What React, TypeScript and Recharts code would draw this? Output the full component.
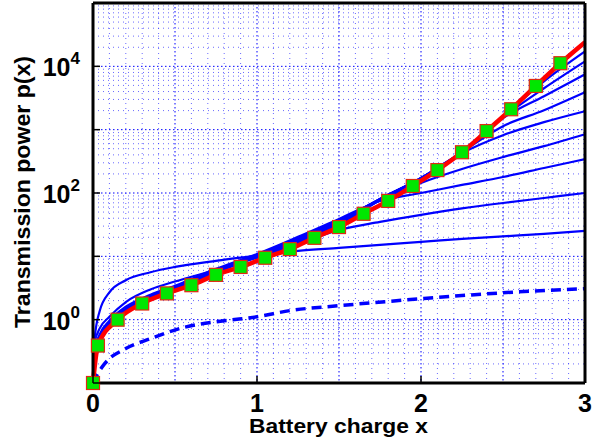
import { LineChart, Line, XAxis, YAxis, CartesianGrid } from 'recharts';

// optimal policy (red, with square markers)
const redX = [0, 0.03, 0.15, 0.3, 0.45, 0.6, 0.75, 0.9, 1.05, 1.2, 1.35, 1.5, 1.65, 1.8, 1.95, 2.1, 2.25, 2.4, 2.55, 2.7, 2.85, 3.0];
const redP = [0.1, 0.39, 1.0, 1.8, 2.6, 3.5, 5.1, 6.8, 9.5, 13, 19.6, 29, 47, 75, 129, 230, 440, 950, 2100, 4900, 11200, 24000];

// finite-horizon family (blue solid)
const blueX = [0, 0.01, 0.04, 0.1, 0.2, 0.35, 0.5, 0.75, 1.0, 1.25, 1.5, 1.75, 2.0, 2.25, 2.5, 2.75, 3.0];
const blueA = [0.1, 0.234, 0.434, 0.776, 1.29, 2.14, 2.97, 5.5, 9.82, 16.3, 31.3, 77.6, 172, 443, 1633, 5802, 17220];
const blueB = [0.1, 0.243, 0.451, 0.805, 1.34, 2.14, 2.97, 5.7, 9.82, 16.9, 32.5, 77.6, 172, 443, 1574, 4505, 11990];
const blueC = [0.1, 0.252, 0.467, 0.834, 1.34, 2.14, 3.08, 5.7, 10.2, 17.5, 33.7, 80.6, 172, 443, 1517, 3370, 7479];
const blueD = [0.1, 0.261, 0.484, 0.865, 1.39, 2.22, 3.08, 5.91, 10.2, 18.2, 34.9, 80.6, 172, 443, 1135, 2028, 3898];
const blueE = [0.1, 0.271, 0.502, 0.897, 1.44, 2.3, 3.19, 5.91, 10.6, 18.9, 36.3, 80.6, 172, 427, 819, 1313, 1955];
const blueF = [0.1, 0.291, 0.54, 0.93, 1.49, 2.39, 3.31, 6.13, 10.6, 19.6, 37.6, 77.6, 144, 239, 369, 550, 849];
const blueG = [0.1, 0.325, 0.581, 0.964, 1.6, 2.48, 3.43, 6.36, 10.9, 20.3, 39, 74.8, 100, 134, 179, 248, 343];
const blueH = [0.1, 0.434, 0.721, 1.11, 1.9, 3.0, 4.0, 6.1, 9.47, 15.7, 26.1, 34.9, 45.1, 57, 69.6, 83.4, 100];
const blueI = [0.1, 0.5, 1.35, 2.7, 4.2, 5.6, 6.8, 8.49, 10.2, 12.2, 13.6, 15.2, 16.9, 18.9, 20.7, 22.6, 25.2];

// lower bound (blue dashed)
const dashX = [0, 0.01, 0.07, 0.2, 0.35, 0.55, 0.8, 1.0, 1.2, 1.5, 2.0, 2.5, 3.0];
const dashP = [0.1, 0.114, 0.2, 0.35, 0.5, 0.75, 0.96, 1.11, 1.39, 1.66, 2.14, 2.66, 3.08];

const xTicks = [0, 1, 2, 3];
const yTicks = [0.1, 1, 10, 100, 1000, 10000, 100000];
const yLabelled = [1, 100, 10000];
const xGridMajor = [0.5, 1, 1.5, 2, 2.5];
const xGridMinor = [0.1, 0.2, 0.3, 0.4, 0.6, 0.7, 0.8, 0.9, 1.1, 1.2, 1.3, 1.4, 1.6, 1.7, 1.8, 1.9, 2.1, 2.2, 2.3, 2.4, 2.6, 2.7, 2.8, 2.9];
const yGridMajor = [1, 10, 100, 1000, 10000];
const decades = [0.1, 1, 10, 100, 1000, 10000];
const mantissas = [2, 3, 4, 5, 6, 7, 8, 9];
const yGridMinor = decades.flatMap((d) => mantissas.map((m) => m * d));

const FONT = '"Liberation Sans", Arial, sans-serif';

const toRows = (xs: number[], ys: number[]) => xs.map((x, i) => ({ x, p: ys[i] }));

const blueSeries = [blueA, blueB, blueC, blueD, blueE, blueF, blueG, blueH, blueI];
const redRows = toRows(redX, redP);
const markerRows = redRows.slice(0, redRows.length - 1);
const dashRows = toRows(dashX, dashP);

const XTickBottom = ({ x, y, payload }: any) => (
  <g>
    <line x1={x} y1={y} x2={x} y2={y - 7} stroke="#000" strokeWidth={1.5} />
    <text x={x} y={y + 29} textAnchor="middle" fontSize={25} fontWeight="bold" fontFamily={FONT} fill="#000">
      {payload.value}
    </text>
  </g>
);

const XTickTop = ({ x, y }: any) => (
  <line x1={x} y1={y} x2={x} y2={y + 7} stroke="#000" strokeWidth={1.5} />
);

const YTickLeft = ({ x, y, payload }: any) => {
  const v = payload.value;
  const exp = Math.round(Math.log10(v));
  return (
    <g>
      <line x1={x} y1={y} x2={x + 7} y2={y} stroke="#000" strokeWidth={1.5} />
      {yLabelled.includes(v) && (
        <text x={x - 13} y={y + 10} textAnchor="end" fontSize={25} fontWeight="bold" fontFamily={FONT} fill="#000">
          10
          <tspan dy={-12} fontSize={17}>{exp}</tspan>
        </text>
      )}
    </g>
  );
};

const YTickRight = ({ x, y }: any) => (
  <line x1={x} y1={y} x2={x - 7} y2={y} stroke="#000" strokeWidth={1.5} />
);

const SquareDot = (props: any) => (
  <rect
    key={props.index}
    x={props.cx - 6.5}
    y={props.cy - 6.5}
    width={13}
    height={13}
    fill="#00e600"
    stroke="#e02a10"
    strokeWidth={1.2}
  />
);

export default function App() {
  const axisLine = { stroke: '#000', strokeWidth: 3 };
  return (
    <div style={{ position: 'absolute', left: 0, top: 0, width: 594, height: 447, background: '#fff' }}>
      <LineChart width={594} height={447} margin={{ top: 0, right: 0, bottom: 0, left: 0 }}>
        <CartesianGrid
          horizontalValues={yGridMinor}
          verticalValues={xGridMinor}
          stroke="#2a2aff"
          strokeOpacity={0.7}
          strokeDasharray="1 4"
        />
        <CartesianGrid
          horizontalValues={yGridMajor}
          verticalValues={xGridMajor}
          stroke="#0000ff"
          strokeDasharray="1.5 2.5"
        />
        <XAxis
          dataKey="x"
          type="number"
          domain={[0, 3]}
          ticks={xTicks}
          height={64}
          tickSize={0}
          tickMargin={0}
          axisLine={axisLine}
          tick={<XTickBottom />}
          interval={0}
          allowDuplicatedCategory={false}
        />
        <XAxis
          xAxisId="top"
          orientation="top"
          dataKey="x"
          type="number"
          domain={[0, 3]}
          ticks={xTicks}
          height={3}
          tickSize={0}
          tickMargin={0}
          axisLine={axisLine}
          tick={<XTickTop />}
          interval={0}
        />
        <YAxis
          scale="log"
          type="number"
          domain={[0.1, 100000]}
          ticks={yTicks}
          width={93}
          tickSize={0}
          tickMargin={0}
          axisLine={axisLine}
          tick={<YTickLeft />}
          interval={0}
        />
        <YAxis
          yAxisId="right"
          orientation="right"
          scale="log"
          type="number"
          domain={[0.1, 100000]}
          ticks={yTicks}
          width={9}
          tickSize={0}
          tickMargin={0}
          axisLine={axisLine}
          tick={<YTickRight />}
          interval={0}
        />
        {blueSeries.map((ys, i) => (
          <Line
            key={`blue-${i}`}
            data={toRows(blueX, ys)}
            dataKey="p"
            type="monotone"
            stroke="#0000ff"
            strokeWidth={2.2}
            dot={false}
            activeDot={false}
            isAnimationActive={false}
          />
        ))}
        <Line
          data={dashRows}
          dataKey="p"
          type="monotone"
          stroke="#0000ff"
          strokeWidth={3.5}
          strokeDasharray="10 6"
          dot={false}
          activeDot={false}
          isAnimationActive={false}
        />
        <Line
          data={redRows}
          dataKey="p"
          type="monotone"
          stroke="#ff0000"
          strokeWidth={4.5}
          dot={false}
          activeDot={false}
          isAnimationActive={false}
        />
        <Line
          data={markerRows}
          dataKey="p"
          stroke="none"
          dot={SquareDot}
          activeDot={false}
          isAnimationActive={false}
        />
      </LineChart>
      <svg width={594} height={447} style={{ position: 'absolute', left: 0, top: 0, pointerEvents: 'none' }}>
        <text
          x={338.5}
          y={433}
          textAnchor="middle"
          fontSize={20}
          fontWeight="bold"
          fontFamily={FONT}
          textLength={179}
          lengthAdjust="spacingAndGlyphs"
          fill="#000"
        >
          Battery charge x
        </text>
        <text
          transform="translate(30,192) rotate(-90)"
          textAnchor="middle"
          fontSize={22}
          fontWeight="bold"
          fontFamily={FONT}
          textLength={272}
          lengthAdjust="spacingAndGlyphs"
          fill="#000"
        >
          Transmission power p(x)
        </text>
      </svg>
    </div>
  );
}
